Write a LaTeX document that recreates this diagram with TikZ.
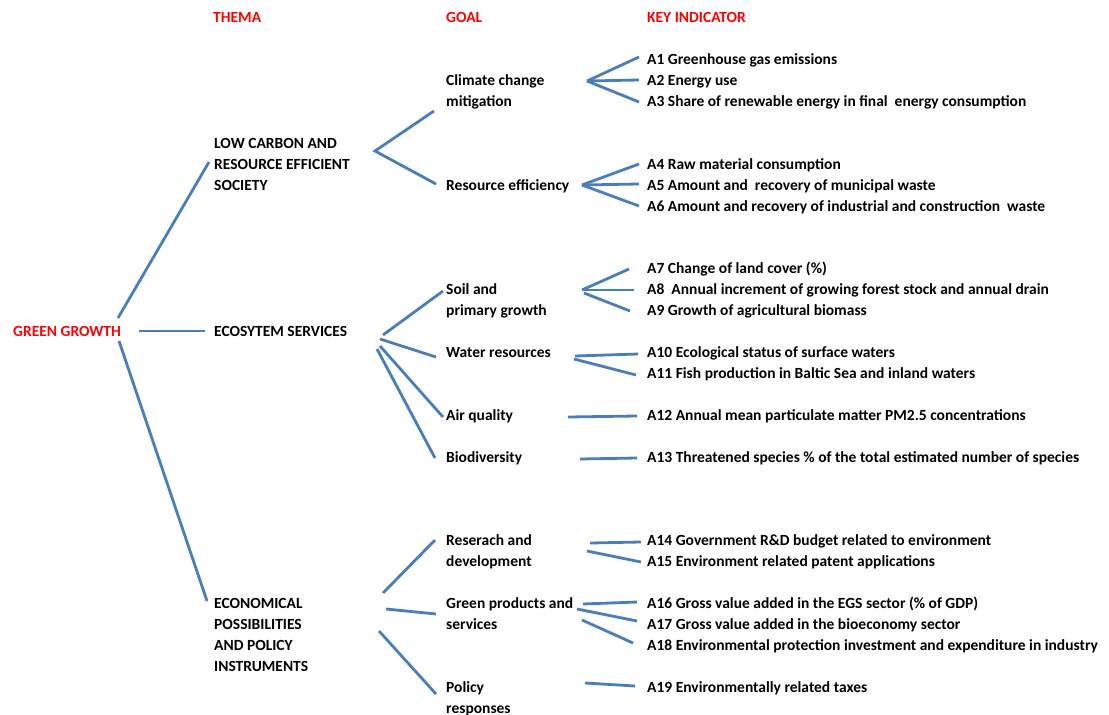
\documentclass[tikz,border=0pt]{standalone}
\usepackage{fontspec}
\setmainfont{Carlito}
\usepackage{xcolor}
\usetikzlibrary{positioning}
\definecolor{linkblue}{RGB}{74,126,187}
\definecolor{headred}{RGB}{255,0,0}

\begin{document}
\begin{tikzpicture}[x=1pt, y=-1pt,
  txt/.style={anchor=base west, inner sep=0pt, align=left, font=\bfseries\fontsize{15.5}{21}\selectfont},
  head/.style={txt, text=headred},
  link/.style={draw=linkblue, line width=2.8pt}
]
\useasboundingbox (0,0) rectangle (1109,715);

% column heads
\node[head] (hthema) at (213,22) {THEMA};
\node[head] (hgoal) at (446,22) {GOAL};
\node[head] (hkey) at (647,22) {KEY INDICATOR};

% root and themes (multi-line nodes sit on their last baseline)
\node[head] (gg) at (13,336) {GREEN GROWTH};
\node[txt] (low) at (214,190) {LOW CARBON AND\\RESOURCE EFFICIENT\\SOCIETY};
\node[txt] (eco) at (214,336) {ECOSYTEM SERVICES};
\node[txt] (econ) at (214,671) {ECONOMICAL\\POSSIBILITIES\\AND POLICY\\INSTRUMENTS};

% goals
\node[txt] (climate) at (446,106) {Climate change\\mitigation};
\node[txt] (resource) at (446,190) {Resource efficiency};
\node[txt] (soil) at (446,315) {Soil and\\primary growth};
\node[txt] (water) at (446,357) {Water resources};
\node[txt] (air) at (446,420) {Air quality};
\node[txt] (bio) at (446,462) {Biodiversity};
\node[txt] (rnd) at (446,566) {Reserach and\\development};
\node[txt] (green) at (446,629) {Green products and\\services};
\node[txt] (policy) at (446,713) {Policy\\responses};

% key indicators
\node[txt] (a1) at (647,64) {A1 Greenhouse gas emissions};
\node[txt] (a2) at (647,85) {A2 Energy use};
\node[txt] (a3) at (647,106) {A3 Share of renewable energy in final\ \ energy consumption};
\node[txt] (a4) at (647,169) {A4 Raw material consumption};
\node[txt] (a5) at (647,190) {A5 Amount and\ \ recovery of municipal waste};
\node[txt] (a6) at (647,211) {A6 Amount and recovery of industrial and construction\ \ waste};
\node[txt] (a7) at (647,273) {A7 Change of land cover (\%)};
\node[txt] (a8) at (647,294) {A8\ \ Annual increment of growing forest stock and annual drain};
\node[txt] (a9) at (647,315) {A9 Growth of agricultural biomass};
\node[txt] (a10) at (647,357) {A10 Ecological status of surface waters};
\node[txt] (a11) at (647,378) {A11 Fish production in Baltic Sea and inland waters};
\node[txt] (a12) at (647,420) {A12 Annual mean particulate matter PM2.5 concentrations};
\node[txt] (a13) at (647,462) {A13 Threatened species \% of the total estimated number of species};
\node[txt] (a14) at (647,545) {A14 Government R\&D budget related to environment};
\node[txt] (a15) at (647,566) {A15 Environment related patent applications};
\node[txt] (a16) at (647,608) {A16 Gross value added in the EGS sector (\% of GDP)};
\node[txt] (a17) at (647,629) {A17 Gross value added in the bioeconomy sector};
\node[txt] (a18) at (647,650) {A18 Environmental protection investment and expenditure in industry};
\node[txt] (a19) at (647,692) {A19 Environmentally related taxes};

% branch points
\coordinate (ggUp) at (118,318);
\coordinate (ggMid) at (139,331);
\coordinate (ggDown) at (119,341);
\coordinate (lowFan) at (375,151);
\coordinate (climFan) at (587,81);
\coordinate (resFan) at (582,185);
\coordinate (soilFan) at (582,290);

% root -> themes
\draw[link] (ggUp) -- ([shift={(-5,-28)}]low.base west);
\draw[link] (ggMid) -- ([shift={(-9,-5)}]eco.base west);
\draw[link] (ggDown) -- ([shift={(-7,-70)}]econ.base west);

% themes -> goals
\draw[link] ([shift={(-12,5)}]climate.base west) -- (lowFan) -- ([shift={(-10,-6)}]resource.base west);
\draw[link] ([shift={(-63,20)}]soil.base west) -- ([shift={(-3,-24)}]soil.base west);
\draw[link] ([shift={(-66,-18)}]water.base west) -- ([shift={(-10,0)}]water.base west);
\draw[link] ([shift={(-66,-74)}]air.base west) -- ([shift={(-3,-3)}]air.base west);
\draw[link] ([shift={(-69,-113)}]bio.base west) -- ([shift={(-11,-4)}]bio.base west);
\draw[link] ([shift={(-63,27)}]rnd.base west) -- ([shift={(-11,-26)}]rnd.base west);
\draw[link] ([shift={(-60,-20)}]green.base west) -- ([shift={(-10,-15)}]green.base west);
\draw[link] ([shift={(-67,-82)}]policy.base west) -- ([shift={(-10,-19)}]policy.base west);

% goals -> indicators
\foreach \k/\dy in {a1/-7, a2/-5, a3/-4}
  \draw[link] (climFan) -- ([shift={(-8,\dy)}]\k.base west);
\foreach \k/\dy in {a4/-5, a5/-6, a6/-5}
  \draw[link] (resFan) -- ([shift={(-8,\dy)}]\k.base west);
\draw[link] (soilFan) -- ([shift={(-18,-4)}]a7.base west);
\draw[link] ([shift={(2,0)}]soilFan) -- ([shift={(-13,-4)}]a8.base west);
\draw[link] ([shift={(2,3)}]soilFan) -- ([shift={(-17,-4)}]a9.base west);
\draw[link] ([shift={(-72,-1)}]a10.base west) -- ([shift={(-9,-3)}]a10.base west);
\draw[link] ([shift={(-73,-19)}]a11.base west) -- ([shift={(-11,-3)}]a11.base west);
\draw[link] ([shift={(-79,-3)}]a12.base west) -- ([shift={(-10,-4)}]a12.base west);
\draw[link] ([shift={(-67,-3)}]a13.base west) -- ([shift={(-10,-4)}]a13.base west);
\draw[link] ([shift={(-57,-2)}]a14.base west) -- ([shift={(-6,-3)}]a14.base west);
\draw[link] ([shift={(-60,-15)}]a15.base west) -- ([shift={(-6,-4)}]a15.base west);
\draw[link] ([shift={(-64,-4)}]a16.base west) -- ([shift={(-10,-6)}]a16.base west);
\draw[link] ([shift={(-70,-20)}]a17.base west) -- ([shift={(-10,-8)}]a17.base west);
\draw[link] ([shift={(-65,-30)}]a18.base west) -- ([shift={(-14,-7)}]a18.base west);
\draw[link] ([shift={(-62,-9)}]a19.base west) -- ([shift={(-12,-6)}]a19.base west);
\end{tikzpicture}
\end{document}
